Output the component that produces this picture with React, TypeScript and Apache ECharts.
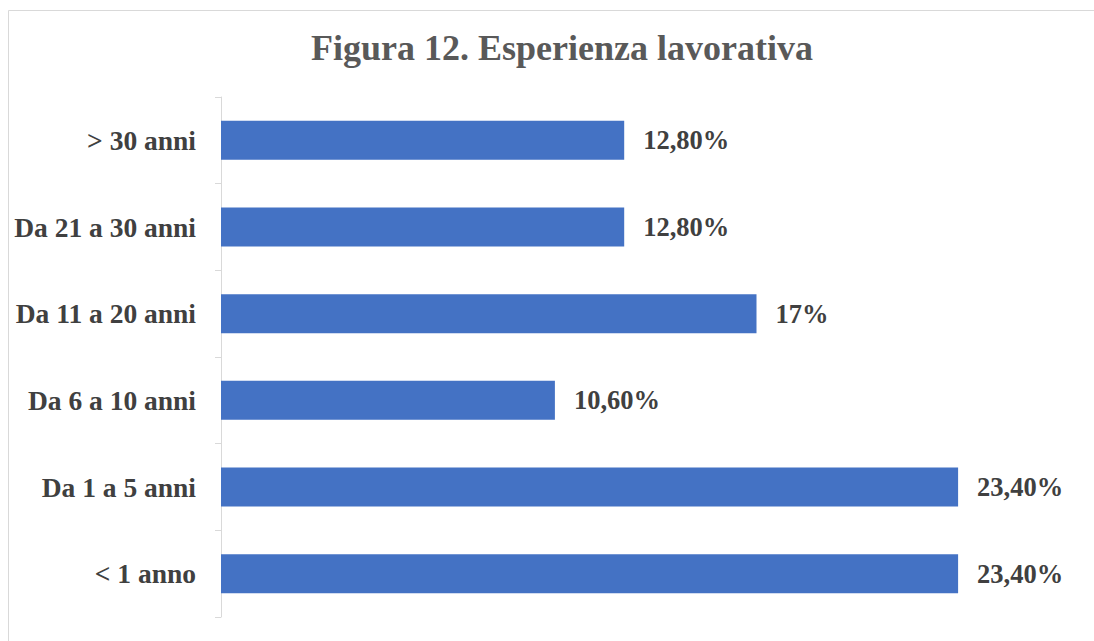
import React, { useEffect, useRef } from "react";
import * as echarts from "echarts";

const titleText = "Figura 12. Esperienza lavorativa";
const categories = ["< 1 anno", "Da 1 a 5 anni", "Da 6 a 10 anni", "Da 11 a 20 anni", "Da 21 a 30 anni", "> 30 anni"];
const values = [23.4, 23.4, 10.6, 17, 12.8, 12.8];

const SERIF = '"Liberation Serif", "Times New Roman", serif';

function fmt(v: number): string {
  return Number.isInteger(v) ? `${v}%` : `${v.toFixed(2).replace(".", ",")}%`;
}

export default function App() {
  const ref = useRef<HTMLDivElement>(null);
  useEffect(() => {
    if (!ref.current) return;
    const chart = echarts.init(ref.current, null, { renderer: "svg" });
    chart.setOption({
      animation: false,
      backgroundColor: "#ffffff",
      title: {
        text: titleText,
        left: 557,
        top: 25,
        textAlign: "center",
        textStyle: { fontFamily: SERIF, fontSize: 36, fontWeight: "bold", color: "#595959" },
      },
      graphic: [
        {
          type: "rect",
          shape: { x: 8.5, y: 10.5, width: 1200, height: 800 },
          style: { fill: "none", stroke: "#d9d9d9", lineWidth: 1 },
          silent: true,
        },
      ],
      grid: { left: 221, top: 97, height: 520, width: 787.5, containLabel: false },
      xAxis: {
        type: "value",
        min: 0,
        max: 25,
        show: false,
      },
      yAxis: {
        type: "category",
        data: categories,
        axisLine: { show: true, lineStyle: { color: "#d9d9d9", width: 1 } },
        axisTick: { show: true, length: 6, lineStyle: { color: "#d9d9d9" } },
        axisLabel: { margin: 25, fontFamily: SERIF, fontSize: 27.5, fontWeight: "bold", color: "#404040" },
        splitLine: { show: false },
      },
      series: [
        {
          type: "bar",
          data: values,
          barWidth: "45%",
          itemStyle: { color: "#4472C4" },
          label: {
            show: true,
            position: "right",
            distance: 19,
            formatter: (p: any) => fmt(p.value),
            fontFamily: SERIF,
            fontSize: 26.5,
            fontWeight: "bold",
            color: "#404040",
          },
        },
      ],
    });
    return () => chart.dispose();
  }, []);
  return <div ref={ref} style={{ position: "fixed", left: 0, top: 0, width: 1094, height: 641 }} />;
}
